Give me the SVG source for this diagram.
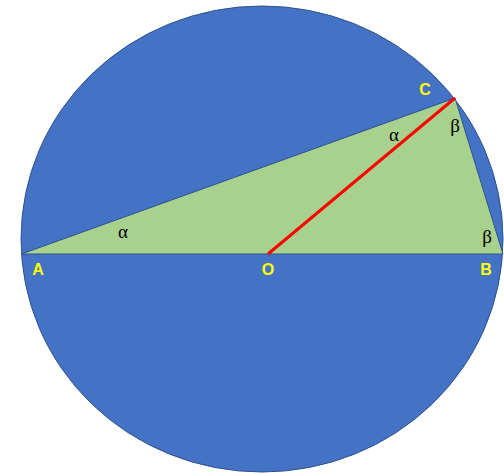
<svg xmlns="http://www.w3.org/2000/svg" width="504" height="474" viewBox="0 0 504 474">
<style>
.pt{font-family:"Liberation Sans","Open Sans",sans-serif;font-weight:bold;font-size:16px;fill:#FFFF00;text-anchor:middle}
.gk{font-family:"Liberation Serif","DejaVu Serif",serif;font-size:19px;fill:#000;text-anchor:middle}
</style>
<rect width="504" height="474" fill="#fff"/>
<g id="circle"><ellipse cx="262" cy="239" rx="241" ry="233" fill="#4472C4" stroke="#2F528F" stroke-width="1"/></g>
<g id="triangle"><polygon points="21.5,254 503,254 455,98" fill="#A9D18E" stroke="#2F528F" stroke-width="1"/></g>
<g id="connectors"><line x1="268" y1="254" x2="455" y2="98" stroke="#FF0000" stroke-width="3"/></g>
<g id="labels">
<text class="pt" x="38" y="275">A</text>
<text class="pt" x="268" y="275">O</text>
<text class="pt" x="486" y="275">B</text>
<text class="pt" x="425" y="95">C</text>
<text class="gk" x="123" y="238">α</text>
<text class="gk" x="394" y="141">α</text>
<text class="gk" x="455" y="132">β</text>
<text class="gk" x="487" y="243">β</text>
</g>
</svg>
